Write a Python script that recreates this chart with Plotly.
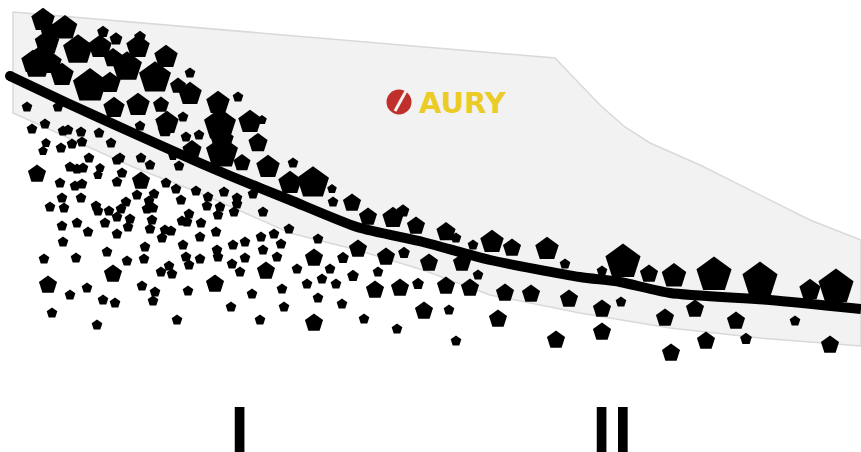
import plotly.graph_objects as go

upper_x = [43,65,47,40,37,62,78,90,100,103,116,110,127,138,140,155,166,190,178,190,114,138,161,167,183,218,238,220,250,262,258,222,242,268,293,199,186,192,173,179,140,58,27,32,45,63,68,81,99,82,72,61,46,43,111,89,120,117,141,150,37,70,77,83,100,98,122,50,33,50,113,222,165]
upper_y = [20,28,43,57,65,75,50,86,47,32,39,83,67,47,37,78,57,73,86,94,108,105,105,123,117,103,97,125,122,120,143,153,163,167,163,135,137,150,156,166,126,107,107,129,124,131,130,132,133,142,144,148,143,151,143,158,158,160,158,165,174,167,169,168,168,175,173,32,62,63,58,140,130]
upper_size = [22,23,23,20,26,22,28,32,22,11,12,20,28,22,11,30,22,10,15,22,20,22,15,22,10,22,10,30,22,9,18,30,16,22,10,10,10,18,9,10,10,10,10,10,10,10,10,10,10,10,10,10,9,9,10,10,10,10,10,10,17,10,10,10,9,9,10,18,22,22,18,22,14]

small_x = [60,75,82,117,166,176,196,208,224,237,253,237,220,207,218,234,263,137,154,149,62,81,50,64,96,98,109,126,121,117,147,153,181,152,130,128,189,182,187,201,62,77,88,105,117,150,165,171,162,200,216,63,107,145,183,217,233,245,261,274,289,281,263,44,76,127,144,186,200,218,189,232,245,277,169,161,172,240,297,142,87,70,155,188,252,282,103,115,153,231,284,52,97,177,260]
small_y = [183,186,184,182,183,189,191,197,192,198,194,204,207,206,215,212,212,195,194,201,198,198,207,208,206,211,211,202,209,217,209,208,200,220,219,227,214,221,222,223,226,223,232,223,234,229,230,231,238,237,232,242,252,247,245,250,245,242,237,234,229,244,250,259,258,261,259,257,259,257,265,264,258,257,266,272,274,272,269,286,288,295,292,291,294,289,300,303,301,307,307,313,325,320,320]
small_size = 10

medium_x = [141,266,113,48,215]
medium_y = [181,271,274,285,284]
medium_size = [17,17,17,17,17]

middle_x = [313,290,332,333,352,368,393,403,416,446,456,473,492,512,547,565,462,478,318,358,314,343,386,404,429,330,353,378,307,322,336,375,400,418,446,470,505,531,569,318,342,424,449,498,314,364,397,456,556]
middle_y = [183,183,189,202,203,217,218,211,226,232,238,245,242,248,249,264,263,275,239,249,258,258,257,253,263,269,276,272,284,279,284,290,288,284,286,288,293,294,299,298,304,311,310,319,323,319,329,341,340]
middle_size = [30,22,9,10,17,17,20,12,17,18,10,10,22,17,22,10,17,10,10,17,17,11,17,11,17,10,11,10,10,10,10,17,17,11,17,17,17,17,17,10,10,17,10,17,17,10,10,10,17]

right_x = [623,602,649,674,714,760,810,836,602,621,665,695,736,795,602,706,746,671,830]
right_y = [262,271,274,276,275,280,290,287,309,302,318,309,321,321,332,341,339,353,345]
right_size = [33,10,17,23,33,33,20,33,17,10,17,17,17,10,17,17,11,17,17]

point_x = upper_x + small_x + medium_x + middle_x + right_x
point_y = upper_y + small_y + medium_y + middle_y + right_y
point_size = upper_size + [small_size] * len(small_x) + medium_size + middle_size + right_size
marker_scale = 1.12

trend_x = [10,67,133,200,233,290,357,423,490,580,620,670,770,861]
trend_y = [76,103,133,163,177,200,227,242,260,277,282,293,300,309]

band_x = [13,555,600,625,650,700,810,861,861,760,670,580,490,423,357,290,200,133,13,13]
band_y = [12,58,105,127,143,165,220,240,346,338,328,313,295,270,250,233,193,167,113,12]

fig = go.Figure()
fig.add_trace(go.Scatter(x=band_x, y=band_y, mode="lines", fill="toself",
                         fillcolor="#f2f2f2", line=dict(color="#d9d9d9", width=1.5),
                         hoverinfo="skip"))
fig.add_trace(go.Scatter(x=trend_x, y=trend_y, mode="lines",
                         line=dict(color="black", width=10, shape="spline", smoothing=0.6),
                         hoverinfo="skip"))
fig.add_trace(go.Scatter(x=[trend_x[0]], y=[trend_y[0]], mode="markers",
                         marker=dict(symbol="circle", size=10, color="black", opacity=1), hoverinfo="skip"))
fig.add_trace(go.Scatter(x=point_x, y=point_y, mode="markers",
                         marker=dict(symbol="pentagon", size=[s * marker_scale for s in point_size],
                                     color="black", opacity=1, line=dict(width=0))))
fig.add_trace(go.Scatter(x=[399], y=[102], mode="markers",
                         marker=dict(symbol="circle", size=25, color="#bf2f2b", opacity=1, line=dict(width=0)),
                         hoverinfo="skip"))
fig.add_trace(go.Scatter(x=[406, 395], y=[91, 111], mode="lines",
                         line=dict(color="#f2f2f2", width=3), hoverinfo="skip"))

fig.add_annotation(x=417, y=103, text="<b>AURY</b>", showarrow=False, xanchor="left", yanchor="middle",
                   font=dict(family="DejaVu Sans", size=29, color="#ebcb25"))
fig.add_annotation(x=239, y=428, text="<b>I</b>", showarrow=False, xanchor="center", yanchor="middle",
                   font=dict(family="Open Sans", size=64, color="black"))
fig.add_annotation(x=612, y=428, text="<b>II</b>", showarrow=False, xanchor="center", yanchor="middle",
                   font=dict(family="Open Sans", size=64, color="black"))

fig.update_layout(width=861, height=452, margin=dict(l=0, r=0, t=0, b=0),
                  paper_bgcolor="white", plot_bgcolor="white", showlegend=False,
                  xaxis=dict(range=[0, 861], visible=False, fixedrange=True),
                  yaxis=dict(range=[452, 0], visible=False, fixedrange=True))
fig.write_html("out.html", config=dict(displayModeBar=False),
               post_script="document.body.style.margin='0';document.body.style.overflow='hidden';")
